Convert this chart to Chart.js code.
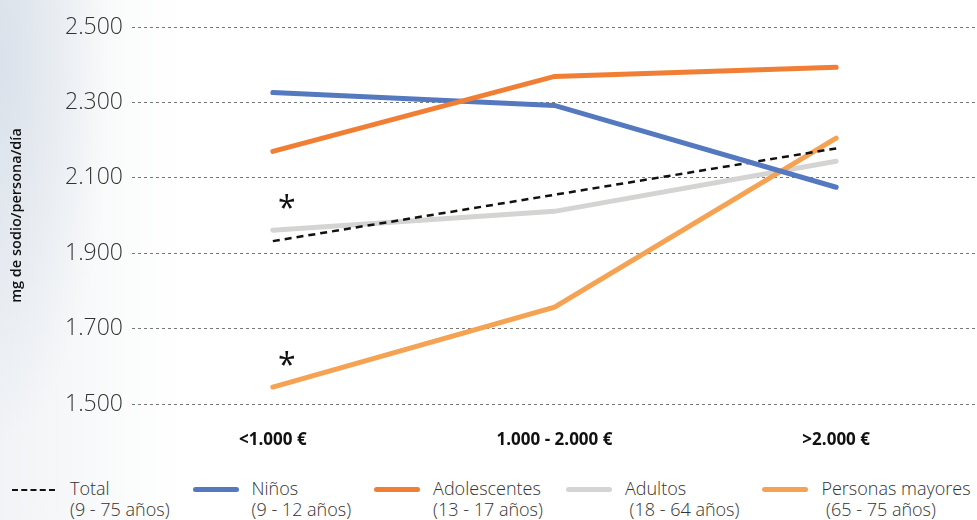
<!DOCTYPE html>
<html lang="es">
<head>
<meta charset="utf-8">
<script src="https://cdn.jsdelivr.net/npm/chart.js@4.4.1/dist/chart.umd.min.js"></script>
<style>
  html, body { margin: 0; padding: 0; }
  body {
    width: 977px; height: 520px; overflow: hidden; position: relative;
    font-family: "Open Sans", sans-serif;
    background:
      radial-gradient(ellipse 110px 380px at 0 60px, rgba(210,219,230,0.75), rgba(255,255,255,0)),
      linear-gradient(to right, #f1f3f6 0, #f8f9fa 90px, #ffffff 180px);
  }
  #wrap { position: absolute; left: 0; top: 0; width: 977px; height: 450px; }
  #leyenda {
    position: absolute; left: 12px; top: 478px;
    display: flex; gap: 23px; color: #333; font-size: 18px; font-weight: 300; line-height: 21px;
  }
  .item { display: flex; align-items: flex-start; }
  .muestra { width: 46px; height: 0; margin-top: 11px; margin-right: 13px; }
  .texto span { display: block; white-space: pre; }
</style>
</head>
<body>
<div id="wrap"><canvas id="grafico"></canvas></div>
<div id="leyenda"></div>
<script>
// Datos (mg de sodio/persona/día por nivel de ingresos)
const categorias = ['<1.000 €', '1.000 - 2.000 €', '>2.000 €'];
const total = [1932, 2055, 2178];
const ninos = [2326, 2292, 2075];
const adolescentes = [2170, 2369, 2393];
const adultos = [1961, 2011, 2144];
const mayores = [1545, 1757, 2205];

const nombres = ['Total', 'Niños', 'Adolescentes', 'Adultos', 'Personas mayores'];
const edades = ['(9 - 75 años)', '(9 - 12 años)', '(13 - 17 años)', ' (18 - 64 años)', ' (65 - 75 años)'];
const colores = ['#111111', '#5479bf', '#f07f35', '#d4d4d3', '#f6a253'];
const marcados = ['Adultos', 'Personas mayores']; // llevan asterisco en el primer punto

const ticksY = [1500, 1700, 1900, 2100, 2300, 2500];

function formato(v) {
  return String(v).replace(/\B(?=(\d{3})+(?!\d))/g, '.');
}

const series = [total, ninos, adolescentes, adultos, mayores];
// orden de dibujo: naranja arriba, gris abajo
const ordenDibujo = [2, 1, 0, 4, 3];

const datasets = series.map((d, i) => ({
  label: nombres[i],
  data: d,
  borderColor: colores[i],
  backgroundColor: colores[i],
  borderWidth: i === 0 ? 2.5 : 5,
  borderDash: i === 0 ? [7, 5] : [],
  borderCapStyle: i === 0 ? 'butt' : 'round',
  pointRadius: 0,
  tension: 0,
  order: ordenDibujo[i]
}));

// asteriscos junto al primer punto
const asteriscos = {
  id: 'asteriscos',
  afterDatasetsDraw(chart) {
    const c = chart.ctx;
    c.save();
    c.fillStyle = '#111';
    c.font = '400 32px "Open Sans"';
    c.textAlign = 'center';
    c.textBaseline = 'middle';
    chart.data.datasets.forEach((ds, i) => {
      if (!marcados.includes(ds.label)) return;
      const p = chart.getDatasetMeta(i).data[0];
      c.fillText('*', p.x + 14, p.y - 20);
    });
    c.restore();
  }
};

const ctx = document.getElementById('grafico').getContext('2d');
const chart = new Chart(ctx, {
  type: 'line',
  data: { labels: categorias, datasets: datasets },
  options: {
    responsive: true,
    maintainAspectRatio: false,
    animation: false,
    layout: { padding: { top: 27, right: 0, left: 0, bottom: 0 } },
    plugins: { legend: { display: false }, tooltip: { enabled: false } },
    scales: {
      x: {
        offset: true,
        grid: { display: false },
        border: { display: false },
        ticks: { color: '#111', font: { family: 'Open Sans', size: 17, weight: 'bold' }, padding: 18 },
        afterFit(s) { s.height = 46; }
      },
      y: {
        min: 1500,
        max: 2500,
        afterBuildTicks(s) { s.ticks = ticksY.map(v => ({ value: v })); },
        border: { display: false, dash: [3, 3] },
        grid: { color: '#777', lineWidth: 1, drawTicks: false },
        ticks: {
          color: '#333', padding: 9,
          font: { family: 'Open Sans', size: 23, weight: '300' },
          callback: v => formato(v)
        },
        title: {
          display: true, text: 'mg de sodio/persona/día', color: '#111',
          font: { family: 'Open Sans', size: 14.5, weight: '600' },
          padding: { top: 8, bottom: 0 }
        },
        afterFit(s) { s.width = 132; }
      }
    }
  },
  plugins: [asteriscos]
});

// leyenda en HTML (dos líneas por serie)
const leyenda = document.getElementById('leyenda');
nombres.forEach((n, i) => {
  const item = document.createElement('div');
  item.className = 'item';
  const m = document.createElement('div');
  m.className = 'muestra';
  if (i === 0) {
    m.style.borderTop = '2.5px dashed ' + colores[i];
    m.style.width = '43px';
    m.style.marginRight = '15px';
  } else {
    m.style.borderTop = '5px solid ' + colores[i];
    m.style.borderRadius = '3px';
    m.style.marginTop = '9px';
  }
  const t = document.createElement('div');
  t.className = 'texto';
  t.innerHTML = '<span></span><span></span>';
  t.children[0].textContent = n;
  t.children[1].textContent = edades[i];
  item.appendChild(m);
  item.appendChild(t);
  leyenda.appendChild(item);
});
</script>
</body>
</html>
